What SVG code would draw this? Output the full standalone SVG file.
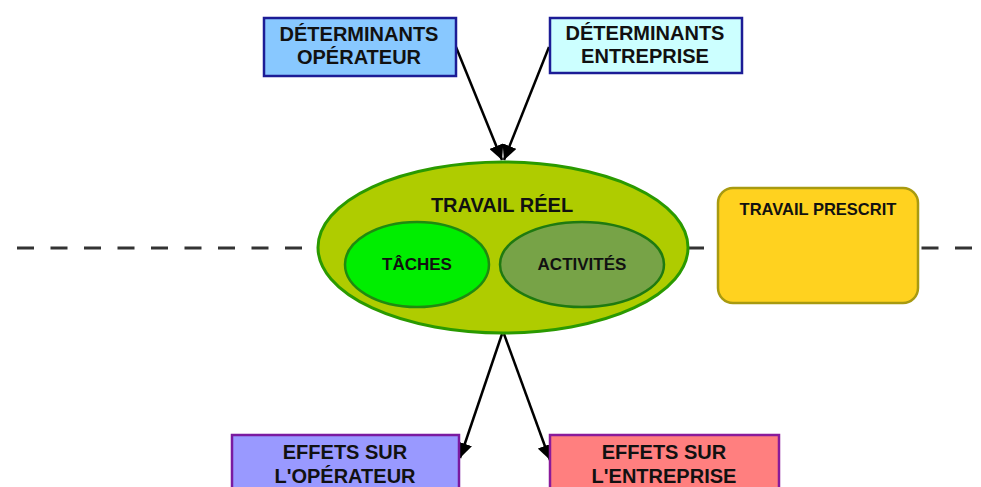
<svg xmlns="http://www.w3.org/2000/svg" width="981" height="487" viewBox="0 0 981 487">
<style>
  text { font-family: "Liberation Sans", Arial, sans-serif; font-weight: bold; fill: #111; text-anchor: middle; }
  .big { font-size: 20px; }
  .mid { font-size: 17px; }
  .box { stroke-width: 2.5; }
  .conn { stroke: #000; stroke-width: 2.5; fill: none; marker-end: url(#arrow); }
</style>
<defs>
  <marker id="arrow" viewBox="0 0 10 10" refX="10" refY="5" markerWidth="6" markerHeight="6" markerUnits="strokeWidth" orient="auto">
    <path d="M0,0 L10,5 L0,10 Z" fill="#000"/>
  </marker>
</defs>
<rect width="981" height="487" fill="#fff"/>
<g id="dashed-line">
  <line x1="17" y1="248" x2="972" y2="248" stroke="#333" stroke-width="3" stroke-dasharray="17 16.5"/>
</g>
<g id="connectors">
  <line class="conn" x1="456" y1="47" x2="502" y2="160"/>
  <line class="conn" x1="549" y1="47" x2="504" y2="160"/>
  <line class="conn" x1="502" y1="334" x2="460" y2="458"/>
  <line class="conn" x1="504" y1="334" x2="550" y2="460"/>
</g>
<g id="determinants-operateur">
  <rect class="box" x="264" y="18" width="192" height="58" fill="#88c8ff" stroke="#1c1c96"/>
  <text class="big" x="359" y="41">DÉTERMINANTS</text>
  <text class="big" x="359" y="64">OPÉRATEUR</text>
</g>
<g id="determinants-entreprise">
  <rect class="box" x="550" y="18" width="192" height="55" fill="#ccffff" stroke="#1c1c96"/>
  <text class="big" x="645" y="40">DÉTERMINANTS</text>
  <text class="big" x="645" y="63">ENTREPRISE</text>
</g>
<g id="travail-reel">
  <ellipse cx="503" cy="247.5" rx="185" ry="85.5" fill="#afcc00" stroke="#2a9a00" stroke-width="3"/>
  <text class="big" x="502" y="212">TRAVAIL RÉEL</text>
</g>
<g id="taches">
  <ellipse cx="417" cy="264.5" rx="72" ry="42.5" fill="#00ee00" stroke="#1f8a10" stroke-width="2.5"/>
  <text class="mid" x="417" y="270">TÂCHES</text>
</g>
<g id="activites">
  <ellipse cx="582" cy="264.5" rx="82" ry="42.5" fill="#77a347" stroke="#1f7a10" stroke-width="2.5"/>
  <text class="mid" x="582" y="270">ACTIVITÉS</text>
</g>
<g id="travail-prescrit">
  <rect class="box" x="718" y="188" width="200" height="115" rx="15" ry="15" fill="#ffd21f" stroke="#a89a10"/>
  <text x="818" y="215" style="font-size:16.5px">TRAVAIL PRESCRIT</text>
</g>
<g id="effets-operateur">
  <rect class="box" x="232" y="435" width="227" height="60" fill="#9999ff" stroke="#7a1aa0"/>
  <text class="big" x="345" y="459">EFFETS SUR</text>
  <text class="big" x="345" y="483">L'OPÉRATEUR</text>
</g>
<g id="effets-entreprise">
  <rect class="box" x="550" y="435" width="229" height="60" fill="#ff7f7f" stroke="#8a1a9a"/>
  <text class="big" x="664" y="459">EFFETS SUR</text>
  <text class="big" x="664" y="483">L'ENTREPRISE</text>
</g>
</svg>
